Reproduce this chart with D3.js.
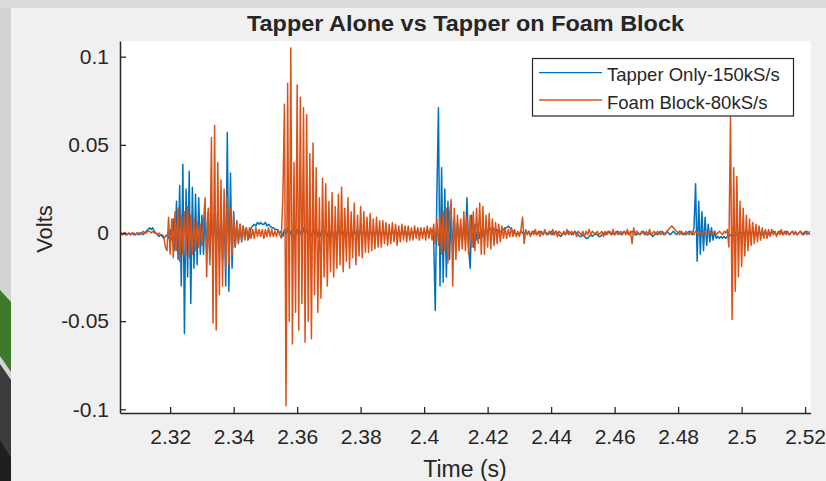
<!DOCTYPE html>
<html>
<head>
<meta charset="utf-8">
<script src="https://cdn.jsdelivr.net/npm/d3@7"></script>
<style>
  html, body { margin: 0; padding: 0; background: #dcdcdc; }
  svg { display: block; }
  text { font-family: "Liberation Sans", Arial, Helvetica, sans-serif; fill: #262626; }
</style>
</head>
<body>
<svg id="chart" width="826" height="481"></svg>
<script>
// ---------------- DATA ----------------
const chartTitle = "Tapper Alone vs Tapper on Foam Block";
const xLabel = "Time (s)";
const yLabel = "Volts";
const seriesNames = ["Tapper Only-150kS/s", "Foam Block-80kS/s"];

// sampling grid of the plotted traces (seconds)
const sampleStart = 2.3045;
const samplePeriod = 0.0005;

// Tapper only trace, millivolts
const tapperOnlyMv = [
  0,-1,0,-1,-1,0,-1,0,-1,-1,
  0,-1,0,0,-1,0,1,2,3,2,
  3,1,0,-1,-2,-1,-2,-3,-2,-1,
  -3,2,-4,8,-10,18,-15,27,-30,39,
  -57,25,-25,35,-40,26,-20,22,-18,20,
  -12,10,-12,14,-10,12,-14,10,-8,12,
  -10,14,-12,10,-15,18,-30,57,-33,34,
  -20,12,-8,7,-6,5,-5,4,-3,3,
  -4,-2,3,4,5,4,6,5,6,5,
  5,6,4,5,4,3,3,2,2,1,
  0,1,-2,2,-1,3,-2,1,-3,2,
  -1,2,-2,1,-2,3,-1,2,-2,1,
  -2,2,-1,3,-2,1,-2,2,-1,1,
  -2,2,-1,2,-2,1,-1,2,-2,1,
  -1,2,-1,1,-2,2,-1,1,-1,2,
  -1,1,-2,1,-1,2,-1,1,-1,1,
  -2,1,-1,2,-1,1,-1,1,-2,1,
  -1,1,-1,2,-1,1,-1,1,-1,2,
  -1,1,-2,1,-1,1,-1,2,-1,1,
  -1,1,-1,2,-1,1,2,-3,-44,20,
  71,-30,37,-28,25,-25,18,-15,12,-10,
  8,-8,6,-6,5,-5,4,-4,20,-8,
  -20,10,-8,5,-4,3,-3,2,-2,1,
  2,1,3,2,3,2,1,2,0,1,
  1,2,3,3,4,3,2,1,0,-1,
  0,-1,1,0,-1,1,0,1,-1,0,
  1,0,-1,0,1,0,-1,1,0,-1,
  0,1,-1,0,1,0,-1,-2,-1,0,
  -1,0,1,0,-1,0,1,0,-1,-2,
  -2,-1,-2,-3,-3,-2,-1,-2,-1,0,
  -1,-2,-2,-1,0,-1,0,1,0,-1,
  0,-1,0,1,0,-1,0,1,0,0,
  -1,0,1,0,-1,-1,0,-1,0,1,
  0,-1,-1,0,-1,-2,-1,0,-1,0,
  1,0,-1,0,1,0,-1,0,1,0,
  -1,0,1,0,-1,0,-1,0,1,0,
  -1,3,28,-16,18,-12,12,-10,9,-7,
  5,-5,3,-4,1,-3,-2,-3,-2,-3,
  -2,-3,-2,-2,-1,-2,-1,0,-1,0,
  1,0,-1,0,1,0,-1,0,1,0,
  -1,0,1,0,-1,0,1,0,-1,0,
  0,1,0,-1,0,1,0,-1,0,1,
  0,-1,0,1,0,0,-1,0,1,0,
  -1,0,1,0,-1
];

// Foam block trace, millivolts
const foamBlockMv = [
  0,-1,0,0,-1,0,-1,0,0,-1,
  0,0,-1,0,1,0,0,1,1,0,
  1,0,0,-1,0,-1,-1,-2,-8,-10,
  9,-12,8,-14,12,-10,14,-16,10,-12,
  12,-12,15,-14,10,-12,8,-10,6,-8,
  5,-7,6,20,-25,14,-18,54,-51,61,
  -55,40,-35,30,-30,25,-20,20,-18,14,
  -12,10,-8,6,-5,5,-4,4,-4,3,
  -3,3,-3,2,-3,3,-2,2,-2,2,
  -3,2,-2,3,-2,2,-2,1,-2,2,
  -1,-3,20,73,-98,85,-50,105,-63,40,
  -45,84,-55,77,-40,71,-62,67,-50,45,
  -60,51,-35,37,-45,20,-37,31,-25,28,
  -30,18,-22,23,-25,15,-20,22,-18,26,
  -22,14,-16,20,-20,12,-14,17,-18,10,
  -13,15,-14,12,-11,9,-11,11,-10,8,
  -9,9,-8,7,-8,7,-6,6,-7,5,
  -6,6,-5,5,-7,4,-5,5,-4,4,
  -5,4,-4,3,-4,4,-3,3,-4,3,
  -3,3,-4,4,-3,3,-4,5,-6,8,
  -7,10,-12,12,-10,14,-17,10,19,-30,
  14,-15,10,-10,8,-9,12,-10,9,-12,
  10,-8,12,-10,14,-6,17,-12,15,-12,
  10,-8,11,-9,8,-7,6,-6,5,-5,
  4,-3,3,-3,2,-2,3,-2,2,-2,
  1,-2,2,9,-6,2,-1,1,-2,1,
  -1,2,-1,1,-2,1,-1,2,-1,0,
  1,-1,2,-1,1,-2,1,0,-1,1,
  -1,2,-1,0,1,-1,1,-2,1,0,
  -1,1,-2,1,-1,2,-1,1,0,-1,
  1,-1,0,1,-2,1,-1,0,1,-1,
  2,-1,1,-1,0,1,-1,1,-1,2,
  -1,1,-6,3,-1,1,0,-1,1,0,
  -1,1,-1,2,-1,0,1,-1,1,0,
  -1,1,0,-1,1,2,3,4,3,2,
  1,0,-1,1,0,-1,1,0,-1,1,
  0,-1,1,0,-1,1,-1,0,1,-1,
  0,1,-1,0,1,-1,0,1,0,-1,
  1,0,2,-8,66,-49,37,-33,32,-25,
  18,-19,14,-13,10,-10,8,-7,6,-6,
  5,-5,4,-4,3,-3,2,-3,2,-2,
  2,-1,1,-2,1,-1,2,-1,1,-1,
  1,-1,0,1,-1,1,-1,0,1,-1,
  0,1,-1,0,1
];

const xTicks = [2.32, 2.34, 2.36, 2.38, 2.40, 2.42, 2.44, 2.46, 2.48, 2.50, 2.52];
const xTickLabels = ["2.32","2.34","2.36","2.38","2.4","2.42","2.44","2.46","2.48","2.5","2.52"];
const yTicks = [-0.1, -0.05, 0, 0.05, 0.1];
const yTickLabels = ["-0.1","-0.05","0","0.05","0.1"];

const xDomain = [2.3042, 2.5217];
const yDomain = [-0.1021, 0.1089];

// ---------------- DRAWING ----------------
const colors = ["#0072BD", "#D95319"];
const plot = { left: 120, right: 810.5, top: 41, bottom: 413 };

const svg = d3.select("#chart");

// background (screenshot frame)
svg.append("rect").attr("x", 0).attr("y", 0).attr("width", 826).attr("height", 481).attr("fill", "#dcdcdc");
svg.append("rect").attr("x", 11).attr("y", 8).attr("width", 815).attr("height", 473).attr("fill", "#f0f0f0");
svg.append("rect").attr("x", 0).attr("y", 8).attr("width", 11).attr("height", 473).attr("fill", "#d3d3d3");
svg.append("polygon").attr("points", "0,290 11,302 11,372 0,356").attr("fill", "#3f7a2b");
svg.append("polygon").attr("points", "0,364 11,380 11,481 0,481").attr("fill", "#3c3c3c");
svg.append("polygon").attr("points", "0,440 11,458 11,481 0,481").attr("fill", "#1e1e1e");

// plot area
svg.append("rect")
  .attr("x", plot.left).attr("y", plot.top)
  .attr("width", plot.right - plot.left).attr("height", plot.bottom - plot.top)
  .attr("fill", "#ffffff");

const x = d3.scaleLinear().domain(xDomain).range([plot.left, plot.right]);
const y = d3.scaleLinear().domain(yDomain).range([plot.bottom, plot.top]);

svg.append("defs").append("clipPath").attr("id", "clip")
  .append("rect")
  .attr("x", plot.left).attr("y", plot.top)
  .attr("width", plot.right - plot.left).attr("height", plot.bottom - plot.top);

const line = d3.line()
  .x((d, i) => x(sampleStart + i * samplePeriod))
  .y(d => y(d / 1000));

const traces = svg.append("g").attr("clip-path", "url(#clip)");
[tapperOnlyMv, foamBlockMv].forEach((s, k) => {
  traces.append("path")
    .datum(s)
    .attr("d", line)
    .attr("fill", "none")
    .attr("stroke", colors[k])
    .attr("stroke-width", 1.5)
    .attr("stroke-linejoin", "round");
});

// axes
const xAxis = d3.axisBottom(x)
  .tickValues(xTicks)
  .tickFormat((d, i) => xTickLabels[i])
  .tickSizeInner(-6).tickSizeOuter(0).tickPadding(16);
const yAxis = d3.axisLeft(y)
  .tickValues(yTicks)
  .tickFormat((d, i) => yTickLabels[i])
  .tickSizeInner(-6).tickSizeOuter(0).tickPadding(11);

const gx = svg.append("g").attr("transform", `translate(0,${plot.bottom})`).call(xAxis);
const gy = svg.append("g").attr("transform", `translate(${plot.left},0)`).call(yAxis);
[gx, gy].forEach(g => {
  g.select(".domain").attr("stroke", "#262626").attr("stroke-width", 1.5);
  g.selectAll(".tick line").attr("stroke", "#262626").attr("stroke-width", 1.3);
  g.selectAll(".tick text")
    .attr("fill", "#262626")
    .style("font-family", '"Liberation Sans", Arial, sans-serif')
    .style("font-size", "21px");
});

// title and axis labels
svg.append("text")
  .attr("x", 465.5).attr("y", 31)
  .attr("text-anchor", "middle")
  .attr("textLength", 437).attr("lengthAdjust", "spacingAndGlyphs")
  .style("font-size", "22px").style("font-weight", "bold")
  .attr("fill", "#000")
  .text(chartTitle);

svg.append("text")
  .attr("x", 465).attr("y", 477)
  .attr("text-anchor", "middle")
  .style("font-size", "23px")
  .text(xLabel);

svg.append("text")
  .attr("transform", "translate(52,229) rotate(-90)")
  .attr("text-anchor", "middle")
  .style("font-size", "22px")
  .text(yLabel);

// legend
const legend = svg.append("g");
legend.append("rect")
  .attr("x", 532.5).attr("y", 58.5).attr("width", 261).attr("height", 57.5)
  .attr("fill", "#ffffff").attr("stroke", "#262626").attr("stroke-width", 1.2);
const rowY = [72.7, 100];
seriesNames.forEach((name, k) => {
  legend.append("line")
    .attr("x1", 539).attr("x2", 602)
    .attr("y1", rowY[k]).attr("y2", rowY[k])
    .attr("stroke", colors[k]).attr("stroke-width", 1.3);
  legend.append("text")
    .attr("x", 607).attr("y", rowY[k] + 2)
    .attr("dominant-baseline", "central")
    .style("font-size", "18.5px")
    .text(name);
});
</script>
</body>
</html>
